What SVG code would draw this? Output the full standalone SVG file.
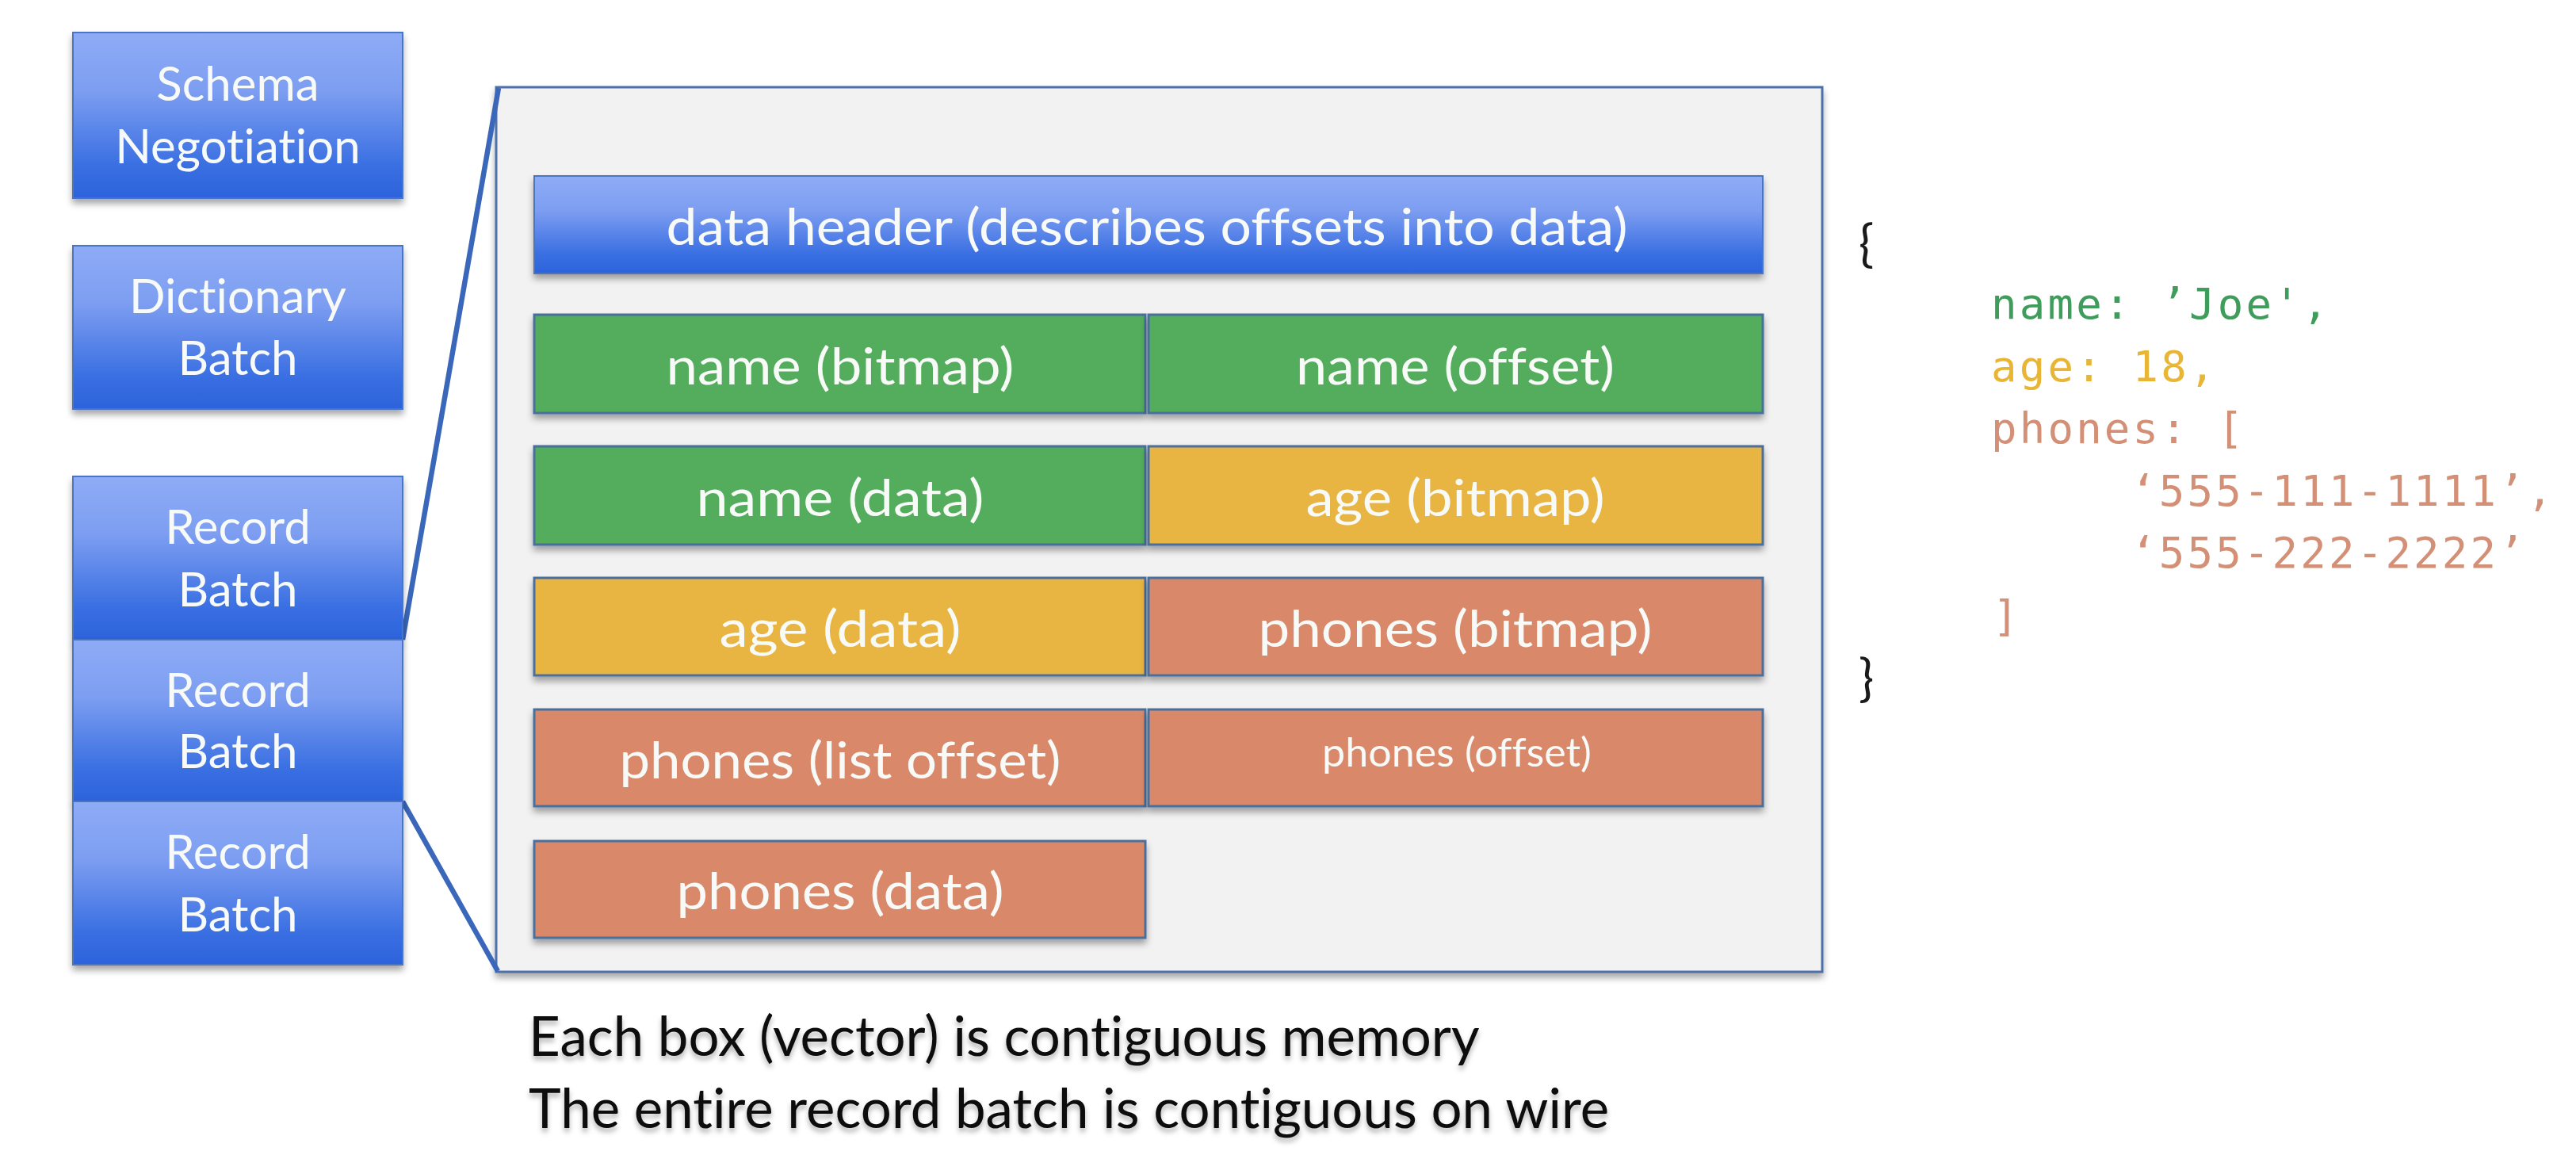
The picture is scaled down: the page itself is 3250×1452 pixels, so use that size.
<svg xmlns="http://www.w3.org/2000/svg" width="3250" height="1452" viewBox="0 0 3250 1452">
<defs>
<linearGradient id="blueGrad" x1="0" y1="0" x2="0" y2="1">
<stop offset="0" stop-color="#8eabf6"/>
<stop offset="0.35" stop-color="#7d9ef1"/>
<stop offset="0.8" stop-color="#3a6fe2"/>
<stop offset="1" stop-color="#2c63dc"/>
</linearGradient>
<filter id="shadow" x="-10%" y="-20%" width="120%" height="150%">
<feDropShadow dx="0" dy="6" stdDeviation="4" flood-color="#000" flood-opacity="0.35"/>
</filter>
<filter id="textShadow" x="-5%" y="-30%" width="110%" height="180%">
<feDropShadow dx="0" dy="5" stdDeviation="3" flood-color="#000" flood-opacity="0.3"/>
</filter>
</defs>
<style>
text{font-variant-ligatures:none;font-feature-settings:"liga" 0,"clig" 0}
.blue{fill:url(#blueGrad);stroke:#4a74c4;stroke-width:2;filter:url(#shadow)}
.green{fill:#52ad5c;stroke:#4a6f9c;stroke-width:3;filter:url(#shadow)}
.yellow{fill:#e8b443;stroke:#4a6f9c;stroke-width:3;filter:url(#shadow)}
.salmon{fill:#d9896b;stroke:#4a6f9c;stroke-width:3;filter:url(#shadow)}
.lbl{font-family:Lato,"Liberation Sans",sans-serif;font-size:60px;fill:#f8faf8;text-anchor:middle}
.box{font-size:63px}
.small{font-size:50px}
.code{font-family:"DejaVu Sans Mono","Liberation Mono",monospace;font-size:54px;letter-spacing:3.2px}
.brace{font-family:Lato,"Liberation Sans",sans-serif;font-size:64px;fill:#1a1a1a}
.cap{font-family:Lato,"Liberation Sans",sans-serif;font-size:69px;fill:#111;filter:url(#textShadow)}
.conn{stroke:#3a67b9;stroke-width:6.5;fill:none}
</style>
<rect x="0" y="0" width="3250" height="1452" fill="#ffffff"/>

<g id="container">
<rect x="626" y="110" width="1673" height="1116" fill="#f2f2f2" stroke="#4d70aa" stroke-width="3" filter="url(#shadow)"/>
</g>

<g id="connectors">
<line class="conn" x1="508" y1="807" x2="629" y2="111"/>
<line class="conn" x1="508" y1="1011" x2="628" y2="1225"/>
</g>

<g id="schema-negotiation">
<rect class="blue" x="92" y="41" width="416" height="209"/>
<text class="lbl" x="300" y="127">Schema</text>
<text class="lbl" x="300" y="206">Negotiation</text>
</g>
<g id="dictionary-batch">
<rect class="blue" x="92" y="310" width="416" height="206"/>
<text class="lbl" x="300" y="395">Dictionary</text>
<text class="lbl" x="300" y="473">Batch</text>
</g>
<g id="record-batch-1">
<rect class="blue" x="92" y="601" width="416" height="206"/>
<text class="lbl" x="300" y="686">Record</text>
<text class="lbl" x="300" y="765">Batch</text>
</g>
<g id="record-batch-2">
<rect class="blue" x="92" y="807" width="416" height="204"/>
<text class="lbl" x="300" y="892">Record</text>
<text class="lbl" x="300" y="969">Batch</text>
</g>
<g id="record-batch-3">
<rect class="blue" x="92" y="1011" width="416" height="206"/>
<text class="lbl" x="300" y="1096">Record</text>
<text class="lbl" x="300" y="1175">Batch</text>
</g>

<g id="data-header">
<rect class="blue" x="674" y="222" width="1550" height="123"/>
<text class="lbl box" x="1447" y="309" textLength="1213" lengthAdjust="spacingAndGlyphs">data header (describes offsets into data)</text>
</g>
<g id="name-bitmap">
<rect class="green" x="674" y="397" width="771" height="124"/>
<text class="lbl box" x="1060" y="485" textLength="439" lengthAdjust="spacingAndGlyphs">name (bitmap)</text>
</g>
<g id="name-offset">
<rect class="green" x="1449" y="397" width="775" height="124"/>
<text class="lbl box" x="1836" y="485" textLength="402" lengthAdjust="spacingAndGlyphs">name (offset)</text>
</g>
<g id="name-data">
<rect class="green" x="674" y="563" width="771" height="124"/>
<text class="lbl box" x="1060" y="651" textLength="363" lengthAdjust="spacingAndGlyphs">name (data)</text>
</g>
<g id="age-bitmap">
<rect class="yellow" x="1449" y="563" width="775" height="124"/>
<text class="lbl box" x="1836" y="651" textLength="377" lengthAdjust="spacingAndGlyphs">age (bitmap)</text>
</g>
<g id="age-data">
<rect class="yellow" x="674" y="729" width="771" height="123"/>
<text class="lbl box" x="1060" y="816" textLength="305" lengthAdjust="spacingAndGlyphs">age (data)</text>
</g>
<g id="phones-bitmap">
<rect class="salmon" x="1449" y="729" width="775" height="123"/>
<text class="lbl box" x="1836" y="816" textLength="497" lengthAdjust="spacingAndGlyphs">phones (bitmap)</text>
</g>
<g id="phones-list-offset">
<rect class="salmon" x="674" y="895" width="771" height="122"/>
<text class="lbl box" x="1060" y="982" textLength="557" lengthAdjust="spacingAndGlyphs">phones (list offset)</text>
</g>
<g id="phones-offset">
<rect class="salmon" x="1449" y="895" width="775" height="122"/>
<text class="lbl small" x="1838" y="967" textLength="340" lengthAdjust="spacingAndGlyphs">phones (offset)</text>
</g>
<g id="phones-data">
<rect class="salmon" x="674" y="1061" width="771" height="122"/>
<text class="lbl box" x="1060" y="1147" textLength="413" lengthAdjust="spacingAndGlyphs">phones (data)</text>
</g>

<g id="json">
<text class="brace" x="2345" y="330">{</text>
<text class="code" x="2512" y="402" fill="#3f9d5c">name: ’Joe',</text>
<text class="code" x="2512" y="481" fill="#e8b535">age: 18,</text>
<text class="code" x="2512" y="559" fill="#d39077">phones: [</text>
<text class="code" x="2688" y="638" fill="#d39077">‘555-111-1111’,</text>
<text class="code" x="2688" y="716" fill="#d39077">‘555-222-2222’</text>
<text class="code" x="2514" y="796" fill="#d39077">]</text>
<text class="brace" x="2345" y="878">}</text>
</g>

<g id="caption">
<text class="cap" x="667" y="1332">Each box (vector) is contiguous memory</text>
<text class="cap" x="667" y="1423">The entire record batch is contiguous on wire</text>
</g>
</svg>
